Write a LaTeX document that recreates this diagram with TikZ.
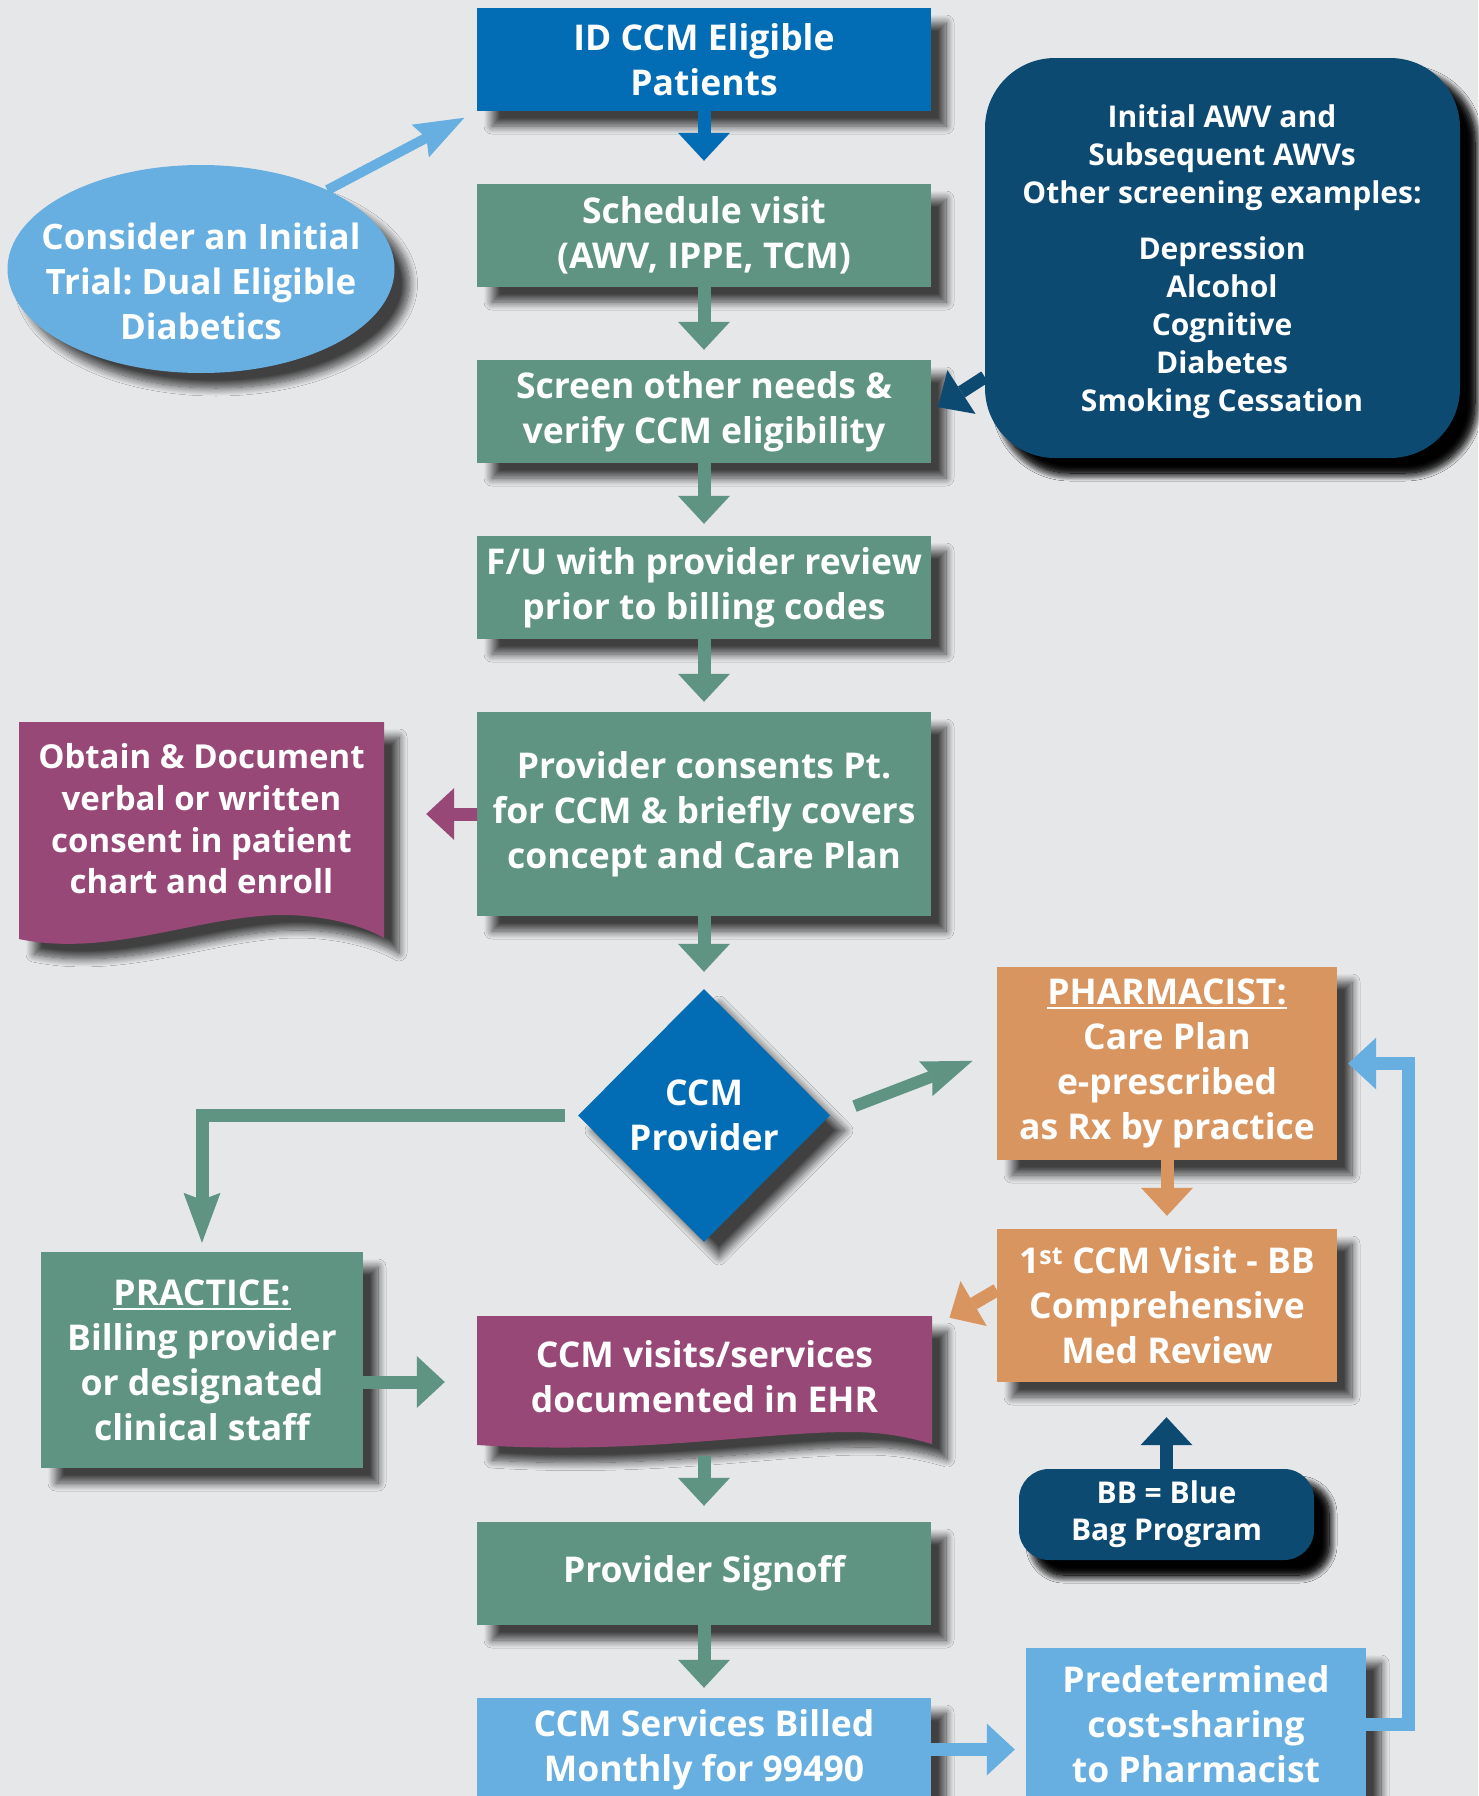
\documentclass[tikz,border=0pt]{standalone}
\usepackage{fontspec}
\setmainfont{Open Sans}
\frenchspacing
\usetikzlibrary{arrows.meta,shapes.geometric,shadows.blur,calc}
\definecolor{bgc}{HTML}{E6E7E9}
\definecolor{cblue}{HTML}{026DB5}
\definecolor{cgreen}{HTML}{5E9481}
\definecolor{cpurple}{HTML}{984877}
\definecolor{corange}{HTML}{D9955F}
\definecolor{cnavy}{HTML}{0C4A72}
\definecolor{clight}{HTML}{67AFE0}
\newcommand\myul[1]{\setbox0=\hbox{#1}\rlap{\rule[-4.5pt]{\wd0}{1.8pt}}\box0}
\begin{document}
\begin{tikzpicture}[x=1pt,y=-1pt,
  shd/.style={blur shadow={shadow xshift=15pt,shadow yshift=-15pt,shadow blur radius=8pt,shadow blur steps=12,shadow opacity=72}},
  shdk/.style={blur shadow={shadow xshift=15pt,shadow yshift=-15pt,shadow blur radius=8pt,shadow blur steps=12,shadow opacity=95}},
  box/.style={rectangle,inner sep=0pt,text=white,align=center,font=\fontsize{35.5}{45}\selectfont\bfseries,shd},
  txt/.style={inner sep=0pt,text=white,align=center,font=\fontsize{35.5}{45}\selectfont\bfseries},
  blk/.style={line width=13pt,-{Triangle[width=52pt,length=28pt,line width=0pt]}},
  pnt/.style={line width=12pt,-{Stealth[length=50pt,width=37pt,inset=7pt,line width=0pt]}}]
\useasboundingbox (0,0) rectangle (1478,1796);
\fill[bgc] (0,0) rectangle (1478,1796);

% main column
\node[box,fill=cblue,minimum width=454pt,minimum height=103pt] (id) at (704,59.5) {ID CCM Eligible\\Patients};
\node[box,fill=cgreen,minimum width=454pt,minimum height=103pt] (sched) at (704,235.5) {Schedule visit\\(AWV, IPPE, TCM)};
\node[box,fill=cgreen,minimum width=454pt,minimum height=103pt] (screen) at (704,411.5) {Screen other needs \&\\verify CCM eligibility};
\node[box,fill=cgreen,minimum width=454pt,minimum height=103pt] (fu) at (704,587.5) {F/U with provider review\\prior to billing codes};
\node[box,fill=cgreen,minimum width=454pt,minimum height=204pt] (cons) at (704,814) {Provider consents Pt.\\for CCM \& briefly covers\\concept and Care Plan};
\node[diamond,aspect=1,inner sep=0pt,fill=cblue,minimum width=252pt,minimum height=253pt,text=white,align=center,font=\fontsize{35.5}{45}\selectfont\bfseries,shd] (ccm) at (704,1115.5) {CCM\\Provider};
\node[box,fill=cgreen,minimum width=454pt,minimum height=103pt] (sign) at (704,1573.5) {Provider Signoff};
\node[box,fill=clight,minimum width=454pt,minimum height=103pt] (billed) at (704,1749.5) {CCM Services Billed\\Monthly for 99490};

% right column
\node[box,fill=clight,minimum width=340pt,minimum height=152pt] (pred) at (1196,1724) {Predetermined\\cost-sharing\\to Pharmacist};
\node[box,fill=corange,minimum width=340pt,minimum height=193pt] (pharm) at (1167,1063.5) {\myul{PHARMACIST:}\\Care Plan\\e-prescribed\\as Rx by practice};
\node[box,fill=corange,minimum width=340pt,minimum height=153pt] (first) at (1167,1305.5) {1\textsuperscript{st} CCM Visit - BB\\Comprehensive\\Med Review};
\node[box,shdk,fill=cnavy,rounded corners=30pt,minimum width=295pt,minimum height=91pt,font=\fontsize{30}{37}\selectfont\bfseries] (bb) at (1166.5,1514.5) {BB = Blue\\Bag Program};
\node[box,shdk,fill=cnavy,rounded corners=70pt,minimum width=475pt,minimum height=400pt] (awv) at (1222.5,258) {};
\node[txt,font=\fontsize{30}{38}\selectfont\bfseries] (awvtxt) at (1222,262) {Initial AWV and\\Subsequent AWVs\\Other screening examples:\\[18pt]Depression\\Alcohol\\Cognitive\\Diabetes\\Smoking Cessation};

% left column
\node[ellipse,inner sep=0pt,fill=clight,minimum width=387pt,minimum height=208pt,shd] (trial) at (201,269) {};
\node[txt,font=\fontsize{35}{45}\selectfont\bfseries] (trialtxt) at (201,281) {Consider an Initial\\Trial: Dual Eligible\\Diabetics};
\node[box,fill=cgreen,minimum width=322pt,minimum height=216pt] (prac) at (202,1360) {\myul{PRACTICE:}\\Billing provider\\or designated\\clinical staff};

% document shapes
\fill[cpurple,shd] (19,722) -- (384,722) -- (384,938) .. controls (360,924) and (320,915) .. (283,915) .. controls (200,915) and (110,958) .. (19,939) -- cycle;
\node[txt,font=\fontsize{33}{41.7}\selectfont\bfseries,minimum width=365pt,minimum height=194pt] (obtain) at (201.5,819) {Obtain \& Document\\verbal or written\\consent in patient\\chart and enroll};
\fill[cpurple,shd] (477,1316) -- (932,1316) -- (932,1444) .. controls (905,1436) and (880,1432) .. (850,1432) .. controls (760,1432) and (640,1455) .. (477,1445) -- cycle;
\node[txt,minimum width=455pt,minimum height=121pt] (visits) at (704.5,1376.5) {CCM visits/services\\documented in EHR};

% connectors
\draw[blk,cblue,shorten >=23pt] (id.south) -- (sched.north);
\draw[blk,cgreen,shorten >=10pt] (sched.south) -- (screen.north);
\draw[blk,cgreen,shorten >=12pt] (screen.south) -- (fu.north);
\draw[blk,cgreen,shorten >=10pt] (fu.south) -- (cons.north);
\draw[blk,cgreen,shorten >=17pt] (cons.south) -- (ccm.north);
\draw[blk,cpurple,shorten >=42pt] (cons.west) -- (cons.west -| obtain.east);
\draw[blk,cnavy,shorten >=8pt] ([yshift=-119pt]awv.west) -- (screen.east);
\draw[pnt,clight,line width=10pt,shorten >=14pt] (trial.32) -- (id.south west);
\draw[pnt,cgreen,shorten <=26pt,shorten >=26pt] (ccm.east) -- ([yshift=12pt]pharm.west);
\draw[pnt,cgreen,line width=13pt,shorten <=13pt,shorten >=9pt] (ccm.west) -| (prac.north);
\draw[blk,corange,shorten >=13pt] (pharm.south) -- (first.north);
\draw[blk,corange,shorten >=20pt] ([yshift=15.5pt]first.west) -- ([yshift=-12pt]visits.north east);
\draw[blk,cgreen,shorten >=32pt] ([yshift=-22pt]prac.east) -- ([yshift=-22pt]prac.east -| visits.west);
\draw[blk,cnavy,shorten >=35pt] (bb.north) -- (bb.north |- first.south);
\draw[blk,cgreen,shorten <=19pt,shorten >=16pt] (sign.north |- visits.south) -- (sign.north);
\draw[blk,cgreen,shorten >=10pt] (sign.south) -- (billed.north);
\draw[blk,clight,shorten >=11pt] (billed.east) -- (billed.east -| pred.west);
\draw[blk,clight,shorten >=11pt] (pred.east) -- ++(42,0) |- (pharm.east);
\end{tikzpicture}
\end{document}
